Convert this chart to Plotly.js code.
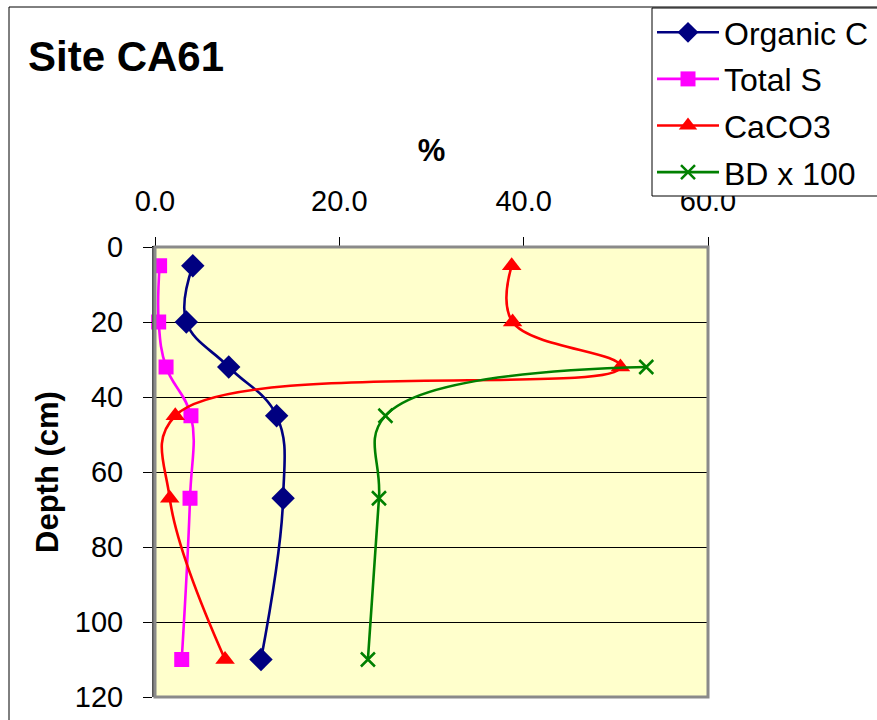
<!DOCTYPE html>
<html>
<head>
<meta charset="utf-8">
<script src="https://cdn.plot.ly/plotly-3.0.1.min.js"></script>
<style>
  html, body { margin: 0; padding: 0; background: #ffffff; }
  #chart { width: 877px; height: 720px; overflow: hidden; }
</style>
</head>
<body>
<div id="chart"></div>
<script>
// Data
var depth = [5, 20, 32, 45, 67, 110];
var organicC = [4.1, 3.4, 8.0, 13.2, 13.9, 11.5];
var totalS = [0.5, 0.4, 1.2, 3.9, 3.8, 2.9];
var caco3 = [38.7, 38.8, 50.5, 2.2, 1.6, 7.6];
var bdDepth = [32, 45, 67, 110];
var bd100 = [53.3, 25.0, 24.3, 23.1];
var seriesNames = ["Organic C", "Total S", "CaCO3", "BD x 100"];
var xTicks = [0, 20, 40, 60];
var yTicks = [0, 20, 40, 60, 80, 100, 120];

var FONT = "Liberation Sans, Arial, sans-serif";

// plot area in pixels
var W = 877, H = 720;
var L = 155, R = 708, T = 247, B = 697;
var pw = R - L, ph = B - T;
function px(x) { return (x - L) / pw; }
function py(y) { return (B - y) / ph; }

function trace(name, xs, ys, color, symbol, size, lineMarker, group) {
  var m = { symbol: symbol, size: size, color: color };
  if (lineMarker) m.line = { color: color, width: 2.5 };
  return {
    type: "scatter", mode: "lines+markers", name: name,
    x: xs, y: ys, cliponaxis: false, legendgroup: group,
    line: { color: color, width: 2.6, shape: "spline", smoothing: 1.15 },
    marker: m
  };
}

var data = [
  trace(seriesNames[0], organicC, depth, "#000080", "diamond", 18, false, "a"),
  trace(seriesNames[1], totalS, depth, "#FF00FF", "square", 15, false, "b"),
  trace(seriesNames[2], caco3, depth, "#FF0000", "triangle-up", 17, false, "c"),
  trace(seriesNames[3], bd100, bdDepth, "#008000", "x-thin", 14, true, "d")
];

var layout = {
  width: W, height: H,
  margin: { l: L, r: W - R, t: T, b: H - B, pad: 0, autoexpand: false },
  paper_bgcolor: "#ffffff",
  plot_bgcolor: "#FFFFCC",
  font: { family: FONT, color: "#000000", size: 29 },
  showlegend: true,
  legend: {
    x: px(652), y: py(5), xanchor: "left", yanchor: "top",
    bgcolor: "rgba(0,0,0,0)", borderwidth: 0,
    font: { family: FONT, size: 32, color: "#000000" },
    itemwidth: 62, tracegroupgap: 2, traceorder: "grouped"
  },
  xaxis: {
    side: "top", range: [0, 60], tickvals: xTicks, tickformat: ".1f",
    ticks: "outside", ticklen: 9, tickwidth: 1, tickcolor: "#000000",
    showgrid: false, zeroline: false, automargin: false,
    showline: true, linecolor: "#000000", linewidth: 1.5,
    tickfont: { family: FONT, size: 29 },
    ticklabelstandoff: 14,
    title: { text: "<b>%</b>", font: { family: FONT, size: 31 }, standoff: 14 }
  },
  yaxis: {
    range: [120, 0], tickvals: yTicks,
    ticks: "outside", ticklen: 9, tickwidth: 1, tickcolor: "#000000",
    showgrid: true, gridcolor: "#000000", gridwidth: 1,
    zeroline: false, automargin: false,
    showline: true, linecolor: "#555555", linewidth: 3,
    tickfont: { family: FONT, size: 29 },
    ticklabelstandoff: 14,
    title: { text: "<b>Depth (cm)</b>", font: { family: FONT, size: 31 }, standoff: 7 }
  },
  shapes: [
    // plot area border
    { type: "rect", xref: "paper", yref: "paper", x0: 0, x1: 1, y0: 0, y1: 1,
      line: { color: "#8a8a8a", width: 3 }, layer: "above" },
    // outer chart frame
    { type: "rect", xref: "paper", yref: "paper",
      x0: px(9), x1: px(W + 20), y0: py(H + 20), y1: py(7),
      line: { color: "#000000", width: 1 }, layer: "below" },
    // legend box (extends past the right edge, as in the reference)
    { type: "rect", xref: "paper", yref: "paper",
      x0: px(652), x1: px(W + 30), y0: py(196), y1: py(8),
      fillcolor: "#ffffff", line: { color: "#000000", width: 1 }, layer: "above" }
  ],
  annotations: [
    { text: "<b>Site CA61</b>", xref: "paper", yref: "paper",
      x: px(26), y: py(57), xanchor: "left", yanchor: "middle",
      showarrow: false, font: { family: FONT, size: 42, color: "#000000" } }
  ]
};

Plotly.newPlot("chart", data, layout, { displayModeBar: false, staticPlot: true });
</script>
</body>
</html>
